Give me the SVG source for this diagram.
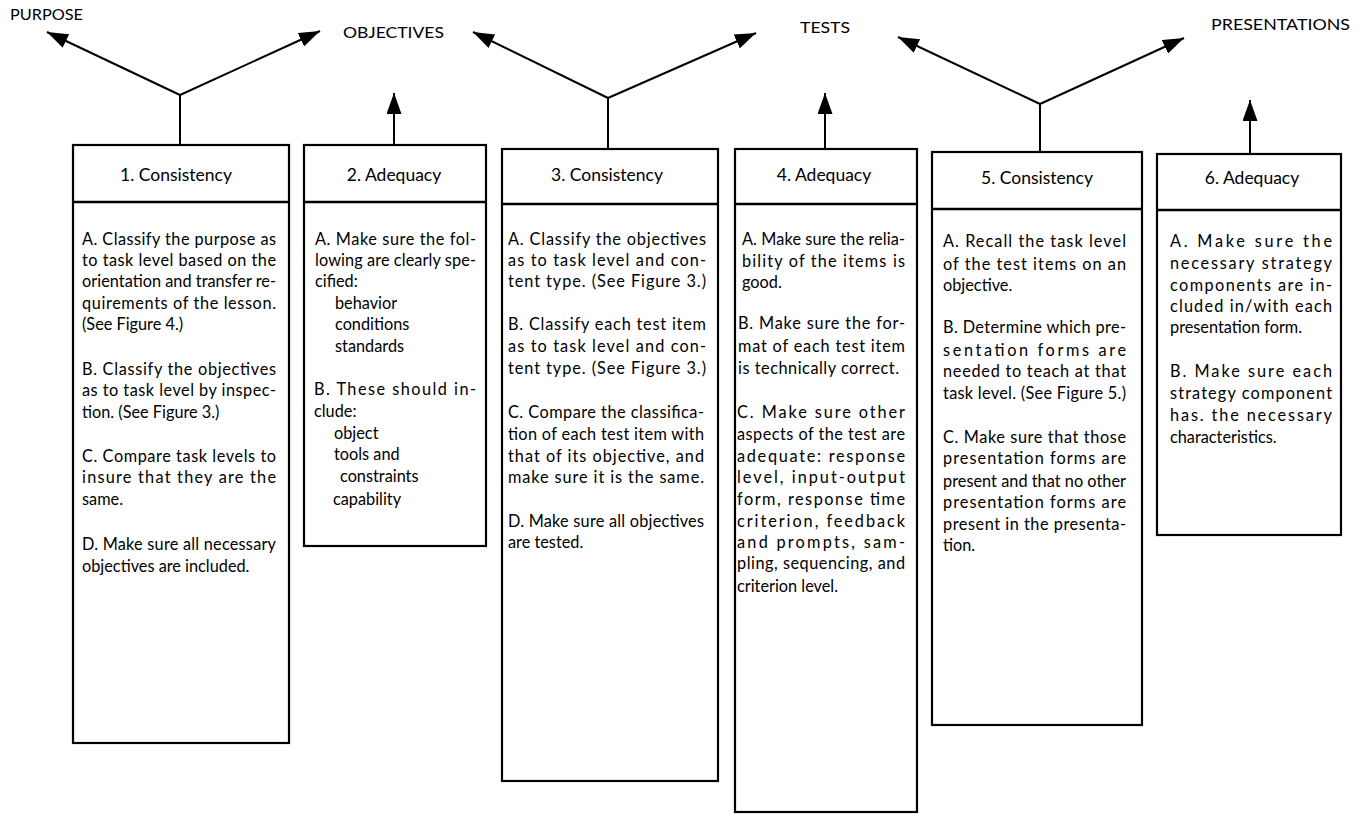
<svg xmlns="http://www.w3.org/2000/svg" width="1364" height="814" viewBox="0 0 1364 814">
<style>
.box{fill:#fff;stroke:#000;stroke-width:2.2}
.div{stroke:#000;stroke-width:2.5}
.hd{font-family:Lato,"Liberation Sans",sans-serif;font-size:17.5px;fill:#000;text-anchor:middle}
.t{font-family:Lato,"Liberation Sans",sans-serif;font-size:16.3px;fill:#000}
.lbl{font-family:Lato,"Liberation Sans",sans-serif;font-size:15px;fill:#000}
.con{stroke:#000;stroke-width:2;fill:none}
</style>
<defs>
<marker id="ah" markerUnits="userSpaceOnUse" markerWidth="22" markerHeight="15" refX="21" refY="7.5" orient="auto">
<path d="M0,0 L21,7.5 L0,15 z" fill="#000"/>
</marker>
</defs>
<rect x="0" y="0" width="1364" height="814" fill="#fff"/>

<g id="labels">
<text class="lbl" x="10" y="20" textLength="73" lengthAdjust="spacingAndGlyphs">PURPOSE</text>
<text class="lbl" x="343" y="38" textLength="101" lengthAdjust="spacingAndGlyphs">OBJECTIVES</text>
<text class="lbl" x="800" y="33" textLength="50" lengthAdjust="spacingAndGlyphs">TESTS</text>
<text class="lbl" x="1211" y="30" textLength="139" lengthAdjust="spacingAndGlyphs">PRESENTATIONS</text>
</g>

<g id="connectors">
<line class="con" x1="180" y1="145" x2="180" y2="95"/>
<line class="con" x1="180" y1="95" x2="47" y2="32" marker-end="url(#ah)"/>
<line class="con" x1="180" y1="95" x2="320" y2="31" marker-end="url(#ah)"/>
<line class="con" x1="394" y1="145" x2="394" y2="93" marker-end="url(#ah)"/>
<line class="con" x1="608" y1="149" x2="608" y2="98"/>
<line class="con" x1="608" y1="98" x2="473" y2="32" marker-end="url(#ah)"/>
<line class="con" x1="608" y1="98" x2="756" y2="33" marker-end="url(#ah)"/>
<line class="con" x1="825" y1="149" x2="825" y2="93" marker-end="url(#ah)"/>
<line class="con" x1="1040" y1="152" x2="1040" y2="104"/>
<line class="con" x1="1040" y1="104" x2="898" y2="37" marker-end="url(#ah)"/>
<line class="con" x1="1040" y1="104" x2="1184" y2="38" marker-end="url(#ah)"/>
<line class="con" x1="1250" y1="154" x2="1250" y2="100" marker-end="url(#ah)"/>
</g>

<g id="node1">
<rect class="box" x="73" y="145" width="216" height="598"/>
<line class="div" x1="73" y1="202" x2="289" y2="202"/>
<text class="hd" x="176" y="181">1. Consistency</text>
<text class="t" x="82" y="245" textLength="194" lengthAdjust="spacing">A. Classify the purpose as</text>
<text class="t" x="82" y="266" textLength="194" lengthAdjust="spacing">to task level based on the</text>
<text class="t" x="82" y="287" textLength="194" lengthAdjust="spacing">orientation and transfer re-</text>
<text class="t" x="82" y="309" textLength="194" lengthAdjust="spacing">quirements of the lesson.</text>
<text class="t" x="82" y="330">(See Figure 4.)</text>
<text class="t" x="82" y="375" textLength="194" lengthAdjust="spacing">B. Classify the objectives</text>
<text class="t" x="82" y="396" textLength="194" lengthAdjust="spacing">as to task level by inspec-</text>
<text class="t" x="82" y="418">tion. (See Figure 3.)</text>
<text class="t" x="82" y="462" textLength="194" lengthAdjust="spacing">C. Compare task levels to</text>
<text class="t" x="82" y="483" textLength="194" lengthAdjust="spacing">insure that they are the</text>
<text class="t" x="82" y="505">same.</text>
<text class="t" x="82" y="550" textLength="194" lengthAdjust="spacing">D. Make sure all necessary</text>
<text class="t" x="82" y="572">objectives are included.</text>
</g>

<g id="node2">
<rect class="box" x="304" y="145" width="182" height="401"/>
<line class="div" x1="304" y1="202" x2="486" y2="202"/>
<text class="hd" x="394" y="181">2. Adequacy</text>
<text class="t" x="315" y="245" textLength="161" lengthAdjust="spacing">A. Make sure the fol-</text>
<text class="t" x="315" y="266" textLength="161" lengthAdjust="spacing">lowing are clearly spe-</text>
<text class="t" x="315" y="287">cified:</text>
<text class="t" x="335" y="309">behavior</text>
<text class="t" x="335" y="330">conditions</text>
<text class="t" x="335" y="352">standards</text>
<text class="t" x="314" y="395" textLength="162" lengthAdjust="spacing">B. These should in-</text>
<text class="t" x="314" y="417">clude:</text>
<text class="t" x="334" y="439">object</text>
<text class="t" x="334" y="460">tools and</text>
<text class="t" x="340" y="482">constraints</text>
<text class="t" x="333" y="505">capability</text>
</g>

<g id="node3">
<rect class="box" x="502" y="149" width="216" height="632"/>
<line class="div" x1="502" y1="204" x2="718" y2="204"/>
<text class="hd" x="607" y="181">3. Consistency</text>
<text class="t" x="508" y="245" textLength="198" lengthAdjust="spacing">A. Classify the objectives</text>
<text class="t" x="508" y="266" textLength="198" lengthAdjust="spacing">as to task level and con-</text>
<text class="t" x="508" y="287" textLength="198" lengthAdjust="spacing">tent type. (See Figure 3.)</text>
<text class="t" x="508" y="330" textLength="198" lengthAdjust="spacing">B. Classify each test item</text>
<text class="t" x="508" y="352" textLength="198" lengthAdjust="spacing">as to task level and con-</text>
<text class="t" x="508" y="374" textLength="198" lengthAdjust="spacing">tent type. (See Figure 3.)</text>
<text class="t" x="508" y="418" textLength="196" lengthAdjust="spacing">C. Compare the classifica-</text>
<text class="t" x="508" y="440" textLength="196" lengthAdjust="spacing">tion of each test item with</text>
<text class="t" x="508" y="462" textLength="196" lengthAdjust="spacing">that of its objective, and</text>
<text class="t" x="508" y="483" textLength="196" lengthAdjust="spacing">make sure it is the same.</text>
<text class="t" x="508" y="527" textLength="196" lengthAdjust="spacing">D. Make sure all objectives</text>
<text class="t" x="508" y="548">are tested.</text>
</g>

<g id="node4">
<rect class="box" x="735" y="149" width="182" height="663"/>
<line class="div" x1="735" y1="204" x2="917" y2="204"/>
<text class="hd" x="824" y="181">4. Adequacy</text>
<text class="t" x="742" y="245" textLength="163" lengthAdjust="spacing">A. Make sure the relia-</text>
<text class="t" x="742" y="267" textLength="163" lengthAdjust="spacing">bility of the items is</text>
<text class="t" x="742" y="288">good.</text>
<text class="t" x="738" y="329" textLength="167" lengthAdjust="spacing">B. Make sure the for-</text>
<text class="t" x="738" y="352" textLength="167" lengthAdjust="spacing">mat of each test item</text>
<text class="t" x="738" y="374" textLength="161" lengthAdjust="spacing">is technically correct.</text>
<text class="t" x="737" y="418" textLength="168" lengthAdjust="spacing">C. Make sure other</text>
<text class="t" x="737" y="440" textLength="168" lengthAdjust="spacing">aspects of the test are</text>
<text class="t" x="737" y="462" textLength="168" lengthAdjust="spacing">adequate: response</text>
<text class="t" x="737" y="483" textLength="168" lengthAdjust="spacing">level, input-output</text>
<text class="t" x="737" y="505" textLength="168" lengthAdjust="spacing">form, response time</text>
<text class="t" x="737" y="527" textLength="168" lengthAdjust="spacing">criterion, feedback</text>
<text class="t" x="737" y="548" textLength="168" lengthAdjust="spacing">and prompts, sam-</text>
<text class="t" x="737" y="569" textLength="168" lengthAdjust="spacing">pling, sequencing, and</text>
<text class="t" x="737" y="592">criterion level.</text>
</g>

<g id="node5">
<rect class="box" x="932" y="152" width="210" height="573"/>
<line class="div" x1="932" y1="209" x2="1142" y2="209"/>
<text class="hd" x="1037" y="184">5. Consistency</text>
<text class="t" x="943" y="247" textLength="183" lengthAdjust="spacing">A. Recall the task level</text>
<text class="t" x="943" y="270" textLength="183" lengthAdjust="spacing">of the test items on an</text>
<text class="t" x="943" y="291">objective.</text>
<text class="t" x="943" y="333" textLength="183" lengthAdjust="spacing">B. Determine which pre-</text>
<text class="t" x="943" y="356" textLength="183" lengthAdjust="spacing">sentation forms are</text>
<text class="t" x="943" y="377" textLength="183" lengthAdjust="spacing">needed to teach at that</text>
<text class="t" x="943" y="399" textLength="183" lengthAdjust="spacing">task level. (See Figure 5.)</text>
<text class="t" x="943" y="443" textLength="183" lengthAdjust="spacing">C. Make sure that those</text>
<text class="t" x="943" y="464" textLength="183" lengthAdjust="spacing">presentation forms are</text>
<text class="t" x="943" y="487" textLength="183" lengthAdjust="spacing">present and that no other</text>
<text class="t" x="943" y="508" textLength="183" lengthAdjust="spacing">presentation forms are</text>
<text class="t" x="943" y="530" textLength="183" lengthAdjust="spacing">present in the presenta-</text>
<text class="t" x="943" y="551">tion.</text>
</g>

<g id="node6">
<rect class="box" x="1157" y="154" width="184" height="381"/>
<line class="div" x1="1157" y1="210" x2="1341" y2="210"/>
<text class="hd" x="1252" y="184">6. Adequacy</text>
<text class="t" x="1170" y="247" textLength="162" lengthAdjust="spacing">A. Make sure the</text>
<text class="t" x="1170" y="269" textLength="162" lengthAdjust="spacing">necessary strategy</text>
<text class="t" x="1170" y="291" textLength="162" lengthAdjust="spacing">components are in-</text>
<text class="t" x="1170" y="312" textLength="162" lengthAdjust="spacing">cluded in/with each</text>
<text class="t" x="1170" y="333">presentation form.</text>
<text class="t" x="1170" y="377" textLength="162" lengthAdjust="spacing">B. Make sure each</text>
<text class="t" x="1170" y="399" textLength="162" lengthAdjust="spacing">strategy component</text>
<text class="t" x="1170" y="421" textLength="162" lengthAdjust="spacing">has. the necessary</text>
<text class="t" x="1170" y="443">characteristics.</text>
</g>
</svg>
